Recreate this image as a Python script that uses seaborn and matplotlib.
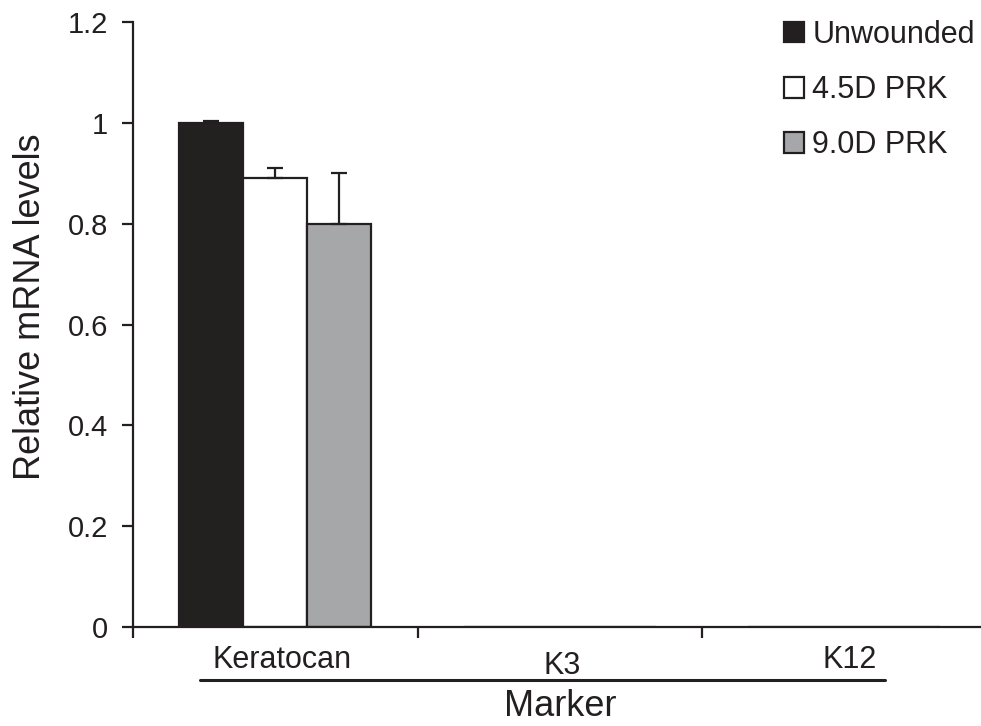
import matplotlib
matplotlib.use("Agg")
import matplotlib.pyplot as plt
from matplotlib.lines import Line2D
from matplotlib.ticker import FixedLocator
import seaborn as sns
import pandas as pd

markers = ["Keratocan", "K3", "K12"]
groups = ["Unwounded", "4.5D PRK", "9.0D PRK"]
values = {
    "Unwounded": [1.0, 0.0, 0.0],
    "4.5D PRK": [0.89, 0.0, 0.0],
    "9.0D PRK": [0.80, 0.0, 0.0],
}
errors = {
    "Unwounded": [0.003, 0.0, 0.0],
    "4.5D PRK": [0.02, 0.0, 0.0],
    "9.0D PRK": [0.10, 0.0, 0.0],
}
colors = ["#231f20", "#ffffff", "#a5a7aa"]
yticks = [0, 0.2, 0.4, 0.6, 0.8, 1, 1.2]
ytick_labels = ["0", "0.2", "0.4", "0.6", "0.8", "1", "1.2"]

rows = []
for g in groups:
    for m, v, e in zip(markers, values[g], errors[g]):
        rows.append({"Marker": m, "Group": g, "Value": v, "Err": e})
df = pd.DataFrame(rows)

sns.set_style("white")
plt.rcParams["font.family"] = ["Liberation Sans", "DejaVu Sans"]

fig = plt.figure(figsize=(9.81, 7.26), dpi=100)
ax = fig.add_axes([133 / 981, 1 - 627 / 726, 853.5 / 981, (627 - 22) / 726])

sns.barplot(data=df, x="Marker", y="Value", hue="Group", order=markers,
            hue_order=groups, palette=colors, width=0.675, dodge=True,
            edgecolor="#231f20", linewidth=1.6, errorbar=None, ax=ax,
            legend=False)

# error bars (upper only) from bar geometry
for gi, g in enumerate(groups):
    cont = ax.containers[gi]
    for bar, v, e in zip(cont, values[g], errors[g]):
        if v <= 0:
            continue
        xc = bar.get_x() + bar.get_width() / 2
        ax.errorbar([xc], [v], yerr=[[0], [e]], fmt="none", ecolor="#231f20",
                    elinewidth=1.6, capsize=6, capthick=1.6, zorder=5)

ax.set_xlim(-0.5, 2.5)
ax.set_ylim(0, 1.2)
ax.set_yticks(yticks)
ax.set_yticklabels(ytick_labels)
ax.tick_params(axis="y", direction="out", length=8, width=1.6, pad=10,
               labelsize=21, colors="#231f20", left=True)
# label positions (slightly offset from category centres, as in the original)
ax.set_xticks([0.025, 1.01, 2.018])
ax.set_xticklabels(markers)
ax.xaxis.set_minor_locator(FixedLocator([-0.5, 0.5, 1.5, 2.5]))
ax.tick_params(axis="x", which="major", length=0, pad=13, labelsize=22,
               colors="#231f20")
ax.tick_params(axis="x", which="minor", direction="out", length=8,
               width=1.6, bottom=True, color="#231f20")
ticks = ax.xaxis.get_major_ticks()
ticks[1].set_pad(17)

for s in ["top", "right"]:
    ax.spines[s].set_visible(False)
for s in ["left", "bottom"]:
    ax.spines[s].set_color("#231f20")
    ax.spines[s].set_linewidth(1.6)

ax.set_xlabel("")
ax.set_ylabel("Relative mRNA levels", fontsize=26, color="#231f20")
ax.yaxis.set_label_coords(-0.1, 0.529)

fig.add_artist(Line2D([200 / 981, 885 / 981], [1 - 680 / 726, 1 - 680 / 726],
                      transform=fig.transFigure, color="#231f20", linewidth=2.2))
fig.text(560 / 981, 1 - 706 / 726, "Marker", ha="center", va="center",
         fontsize=26, color="#231f20")

handles = [plt.Rectangle((0, 0), 1, 1, facecolor=c, edgecolor="#231f20",
                         linewidth=1.6) for c in colors]
leg = ax.legend(handles, groups, loc="upper right",
                bbox_to_anchor=(975 / 981, 1 - 20 / 726),
                bbox_transform=fig.transFigure, frameon=False, fontsize=22,
                handlelength=0.65, handleheight=0.65, handletextpad=0.28,
                labelspacing=0.82, borderaxespad=0, borderpad=0)
for t in leg.get_texts():
    t.set_color("#231f20")

fig.savefig("out.png", dpi=100)
